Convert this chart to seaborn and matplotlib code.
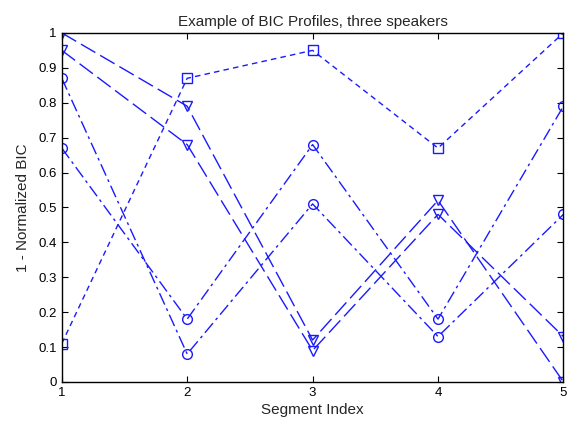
import numpy as np
import pandas as pd
import matplotlib
matplotlib.use("Agg")
import matplotlib.pyplot as plt
import seaborn as sns

# segment index on the x axis
segments = [1, 2, 3, 4, 5]

# 1 - normalized BIC
square_a = [0.11, 0.87, 0.95, 0.67, 1.00]
tri_a = [1.00, 0.79, 0.12, 0.52, 0.00]
tri_b = [0.95, 0.68, 0.09, 0.48, 0.13]
circ_a = [0.87, 0.08, 0.51, 0.13, 0.48]
circ_b = [0.67, 0.18, 0.68, 0.18, 0.79]

series = {"sq_a": square_a, "tri_a": tri_a, "tri_b": tri_b,
          "circ_a": circ_a, "circ_b": circ_b}
markers = {"sq_a": "s", "tri_a": "v", "tri_b": "v", "circ_a": "o", "circ_b": "o"}
dashes = {"sq_a": (4, 3), "tri_a": (12, 4), "tri_b": (12, 4),
          "circ_a": (9, 3, 2, 3), "circ_b": (9, 3, 2, 3)}

rows = []
for name, vals in series.items():
    for x, y in zip(segments, vals):
        rows.append({"seg": x, "val": y, "series": name})
df = pd.DataFrame(rows)

sns.set_style("ticks")
plt.rcParams['font.family'] = ['Liberation Sans', 'DejaVu Sans']

fig = plt.figure(figsize=(5.72, 4.22), dpi=100)
ax = fig.add_axes([0.108, 0.095, 0.877, 0.827])

sns.lineplot(data=df, x="seg", y="val", hue="series", style="series",
             palette=["#1a1aff"] * len(series), markers=markers, dashes=dashes,
             linewidth=1.0, markersize=7, markerfacecolor="none",
             markeredgecolor="#1a1aff", markeredgewidth=1.0,
             legend=False, ax=ax)

ax.set_xlim(1, 5)
ax.set_ylim(0, 1)
ax.set_xticks(segments)
ax.set_xticklabels([str(s) for s in segments])
yt = np.round(np.arange(0, 1.01, 0.1), 1)
ax.set_yticks(yt)
ax.set_yticklabels(["0"] + ["%.1f" % v for v in yt[1:-1]] + ["1"])
ax.tick_params(direction="in", top=True, right=True, labelsize=9.5,
               length=4, width=0.8, colors="black")
for s in ax.spines.values():
    s.set_visible(True)
    s.set_linewidth(1.0)
    s.set_color("black")

ax.set_title("Example of BIC Profiles, three speakers", fontsize=11, pad=5)
ax.set_xlabel("Segment Index", fontsize=11, labelpad=3)
ax.set_ylabel("1 - Normalized BIC", fontsize=11, labelpad=6)

fig.savefig("out.png", dpi=100)
